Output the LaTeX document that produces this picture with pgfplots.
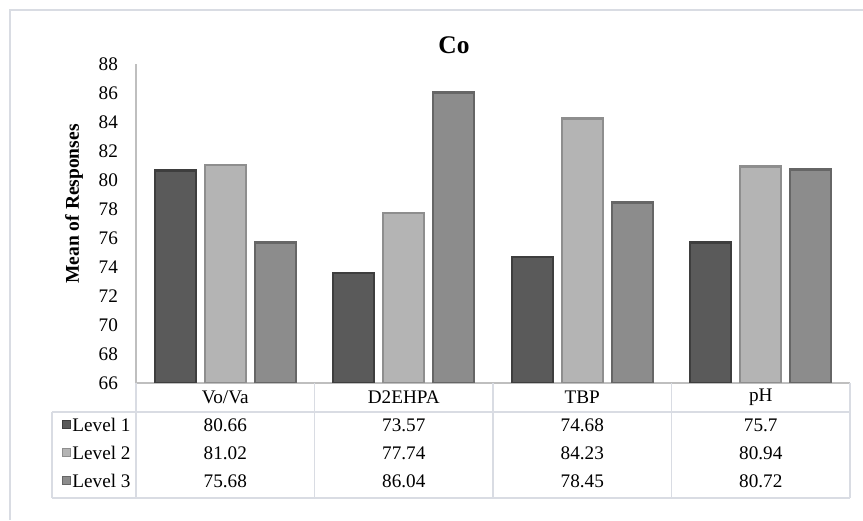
\documentclass[border=0pt]{standalone}
\usepackage{fontspec}
\setmainfont{Liberation Serif}
\usepackage{pgfplots}
\usepackage{pgfplotstable}
\pgfplotsset{compat=1.18}

\definecolor{lvA}{HTML}{5A5A5A}
\definecolor{lvAe}{HTML}{3E3E3E}
\definecolor{lvB}{HTML}{B4B4B4}
\definecolor{lvBe}{HTML}{8E8E8E}
\definecolor{lvC}{HTML}{8C8C8C}
\definecolor{lvCe}{HTML}{666666}
\definecolor{gridc}{HTML}{D9DCE3}
\definecolor{axisc}{HTML}{BFBFBF}

\newcommand\tf{\fontsize{9.6}{11.5}\selectfont}

% group, level 1, level 2, level 3
\pgfplotstableread{
x l1 l2 l3
0 80.66 81.02 75.68
1 73.57 77.74 86.04
2 74.68 84.23 78.45
3 75.7 80.94 80.72
}\codata

\begin{document}
\begin{tikzpicture}[x=0.5pt,y=0.5pt]
\useasboundingbox (0,0) rectangle (863,520);
\draw[gridc,line width=0.75pt] (10,0) -- (10,510) -- (863,510);

\begin{axis}[
    at={(68pt,68.5pt)}, anchor=south west,
    scale only axis,
    width=357pt, height=159.5pt,
    xmin=-0.5, xmax=3.5,
    ymin=66, ymax=88,
    ytick={66,68,...,88},
    xtick=\empty,
    axis lines*=left,
    axis line style={draw=axisc, line width=0.75pt},
    major tick length=0pt,
    yticklabel style={font=\tf, anchor=east, xshift=-5.5pt},
    /pgf/number format/assume math mode=true,
]
\addplot[ybar, bar width=20.5pt, bar shift=-25pt, fill=lvA, draw=lvAe, line width=1.2pt]
    table[x=x, y=l1]{\codata};
\addplot[ybar, bar width=20.5pt, bar shift=0pt, fill=lvB, draw=lvBe, line width=1.2pt]
    table[x=x, y=l2]{\codata};
\addplot[ybar, bar width=20.5pt, bar shift=25pt, fill=lvC, draw=lvCe, line width=1.2pt]
    table[x=x, y=l3]{\codata};
\end{axis}

% title and y label
\node[font=\fontsize{12.7}{15}\selectfont\bfseries] at (454,475) {Co};
\node[font=\fontsize{9.75}{12}\selectfont\bfseries, rotate=90] at (74,316) {Mean of Responses};

% data table
\begin{scope}[gridc, line width=0.75pt]
\foreach \xx in {314.5,493,671.5,850} \draw (\xx,137) -- (\xx,22);
\draw (136,137) -- (136,22);
\draw (52,108) -- (850,108);
\draw (52,22) -- (850,22);
\draw (52,108) -- (52,22);
\end{scope}

\foreach \i/\name in {0/{Vo/Va},1/D2EHPA,2/TBP,3/pH} {
  \pgfmathsetmacro\cx{225.25+178.5*\i}
  \node[font=\tf] at (\cx,123) {\name};
  \pgfplotstablegetelem{\i}{l1}\of\codata
  \node[font=\tf] at (\cx,95) {\pgfplotsretval};
  \pgfplotstablegetelem{\i}{l2}\of\codata
  \node[font=\tf] at (\cx,67) {\pgfplotsretval};
  \pgfplotstablegetelem{\i}{l3}\of\codata
  \node[font=\tf] at (\cx,39) {\pgfplotsretval};
}

\foreach \yy/\f/\e/\lab in {95/lvA/lvAe/Level 1,67/lvB/lvBe/Level 2,39/lvC/lvCe/Level 3} {
  \filldraw[fill=\f, draw=\e, line width=0.5pt] (62,\yy-4) rectangle (70,\yy+4);
  \node[font=\tf, anchor=west, inner sep=0pt] at (72,\yy) {\lab};
}
\end{tikzpicture}
\end{document}
